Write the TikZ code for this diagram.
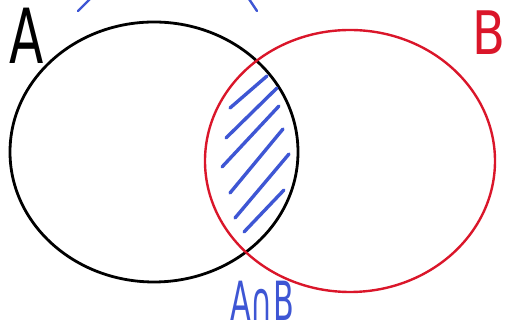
\documentclass[tikz,border=0pt]{standalone}
\usepackage{fontspec}
\setmainfont{DejaVu Sans}
\usepackage{tikz}
\definecolor{setred}{RGB}{218,22,42}
\definecolor{hatchblue}{RGB}{62,86,212}
\tikzset{
  setA/.style={line width=2.8pt, draw=black},
  setB/.style={line width=2.4pt, draw=setred},
  hatch/.style={line width=3.4pt, draw=hatchblue, line cap=round},
  setlabel/.style={font=\fontsize{60}{60}\selectfont, inner sep=0pt},
}

\begin{document}
\begin{tikzpicture}[x=1pt,y=1pt]
\useasboundingbox (0,0) rectangle (515,336);
\draw[setA] (154,184) ellipse (144 and 130);
\draw[setB] (350,175) ellipse (145 and 131);
\foreach \xa/\ya/\xb/\yb in {230/228/267/260, 226/198/277/248, 222/169/279/230,
    230/143/283/207, 235/118/289/182, 244/104/284/146}
  \draw[hatch] (\xa,\ya) -- (\xb,\yb);
\draw[hatch, line width=2.4pt] (78,325) -- (90,337);
\draw[hatch, line width=2.4pt] (249,337) -- (257,325);
\node[setlabel, font=\fontsize{76}{76}\selectfont, xscale=0.66, transform shape] (labA) at (27,300) {A};
\node[setlabel, text=setred, xscale=0.8, transform shape] (labB) at (489,303) {B};
\node[setlabel, text=hatchblue, font=\fontsize{54}{54}\selectfont, xscale=0.56, transform shape] (labAB) at (262,35) {A∩B};
\end{tikzpicture}
\end{document}
